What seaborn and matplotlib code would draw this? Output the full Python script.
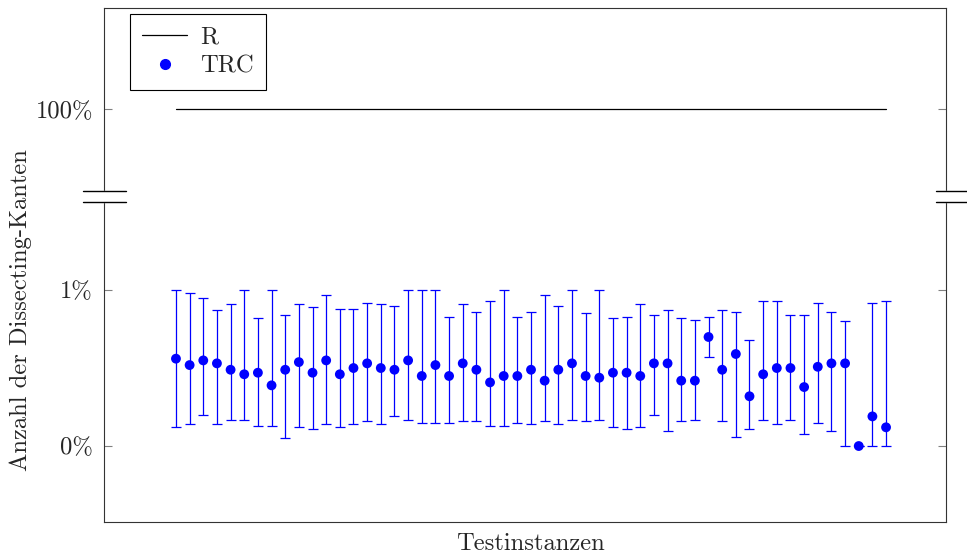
"""Dissecting-Kanten je Testinstanz (TRC mit Spannweite, R als Referenz)."""
import numpy as np
import pandas as pd
import matplotlib
matplotlib.use("Agg")
import matplotlib.pyplot as plt
import seaborn as sns
from matplotlib.lines import Line2D
from matplotlib.patches import Rectangle

# TRC: Mittelwert, Maximum, Minimum in Prozent je Testinstanz
trc_mean = [0.560, 0.519, 0.549, 0.530, 0.489, 0.460, 0.470, 0.389, 0.489, 0.538,
             0.470, 0.549, 0.460, 0.500, 0.530, 0.500, 0.489, 0.549, 0.449, 0.519,
             0.449, 0.530, 0.489, 0.408, 0.449, 0.449, 0.489, 0.419, 0.489, 0.530,
             0.449, 0.438, 0.470, 0.470, 0.449, 0.530, 0.530, 0.419, 0.419, 0.699,
             0.489, 0.590, 0.319, 0.460, 0.500, 0.500, 0.378, 0.508, 0.530, 0.530,
             0.000, 0.190, 0.120]
trc_max = [1.008, 0.979, 0.949, 0.870, 0.910, 1.000, 0.819, 1.000, 0.840, 0.910,
            0.889, 0.970, 0.880, 0.880, 0.919, 0.910, 0.899, 1.019, 1.030, 1.008,
            0.829, 0.910, 0.859, 0.929, 1.030, 0.829, 0.859, 0.970, 0.899, 1.060,
            0.851, 1.008, 0.819, 0.829, 0.910, 0.840, 0.870, 0.819, 0.810, 0.829,
            0.870, 0.859, 0.679, 0.929, 0.929, 0.840, 0.840, 0.919, 0.859, 0.799,
            0.000, 0.919, 0.929]
trc_min = [0.120, 0.139, 0.199, 0.139, 0.169, 0.169, 0.130, 0.130, 0.049, 0.120,
            0.109, 0.139, 0.120, 0.139, 0.158, 0.139, 0.190, 0.169, 0.149, 0.149,
            0.149, 0.158, 0.158, 0.130, 0.130, 0.149, 0.139, 0.158, 0.139, 0.169,
            0.158, 0.169, 0.120, 0.109, 0.120, 0.199, 0.098, 0.158, 0.169, 0.569,
            0.158, 0.060, 0.109, 0.169, 0.139, 0.169, 0.079, 0.149, 0.098, 0.000,
            0.000, 0.000, 0.000]
r_value = 100.0
y_ticks = [0, 1, 100]
y_tick_labels = ["0%", "1%", "100%"]

n = len(trc_mean)
df = pd.DataFrame({
    "instanz": np.arange(n),
    "mean": trc_mean,
    "max": trc_max,
    "min": trc_min,
    "R": [r_value] * n,
})

# gebrochene y-Achse: 0..1 % linear, darüber gestaucht bis 100 %
knots_data = [-10, 1, 100, 200]
knots_axis = [-10, 1, 2.16, 3.16]


def fwd(y):
    return np.interp(y, knots_data, knots_axis)


def inv(y):
    return np.interp(y, knots_axis, knots_data)


FS = 17.7

sns.set_style("ticks")
plt.rcParams["font.family"] = ["cmr10", "DejaVu Serif"]
plt.rcParams["mathtext.fontset"] = "cm"
plt.rcParams["axes.formatter.use_mathtext"] = True

fig = plt.figure(figsize=(9.67, 5.55), dpi=100)
ax = fig.add_axes([104 / 967, 33 / 555, 842 / 967, 514 / 555])
ax.set_yscale("function", functions=(fwd, inv))

ax.errorbar(df["instanz"], df["mean"],
            yerr=[df["mean"] - df["min"], df["max"] - df["mean"]],
            fmt="none", ecolor="blue", elinewidth=0.9, capsize=3.3,
            capthick=0.9, zorder=2)
sns.lineplot(data=df, x="instanz", y="R", color="black", linewidth=0.9,
             ax=ax, zorder=3, legend=False)
sns.scatterplot(data=df, x="instanz", y="mean", color="blue", s=50,
                edgecolor="none", ax=ax, zorder=4, legend=False)

ax.set_xlim(-5.27, 56.39)
ax.set_ylim(inv(-0.487), inv(2.808))
ax.set_xticks([])
ax.set_yticks(y_ticks)
ax.set_yticklabels(y_tick_labels, fontsize=FS)
ax.minorticks_off()
ax.tick_params(axis="y", direction="in", length=6, width=0.8, color="#808080",
               left=True, right=True, pad=8)

for s in ax.spines.values():
    s.set_linewidth(0.8)
    s.set_color("#333333")

ax.set_xlabel("Testinstanzen", fontsize=FS)
ax.set_ylabel("Anzahl der Dissecting-Kanten", fontsize=FS)
ax.xaxis.set_label_coords(0.507, -0.022)
ax.yaxis.set_label_coords(-0.085, 0.4125)

# Achsenbruch links und rechts
y_hi, y_lo = (522 - 191) / 514, (522 - 201.5) / 514
for x0, x1 in [(-0.025, 0.026), (0.988, 1.03)]:
    xc = 0.0 if x0 < 0 else 1.0
    ax.add_patch(Rectangle((xc - 0.004, y_lo), 0.008, y_hi - y_lo,
                           transform=ax.transAxes, color="white",
                           clip_on=False, zorder=5))
    for yy in (y_hi, y_lo):
        ax.add_line(Line2D([x0, x1], [yy, yy], transform=ax.transAxes,
                           color="black", linewidth=1.0, clip_on=False,
                           zorder=6))

handles = [
    Line2D([0], [0], color="black", linewidth=0.9),
    Line2D([0], [0], color="blue", marker="o", linestyle="none",
           markersize=7),
]
leg = ax.legend(handles, ["R", "TRC"], loc="upper left", fontsize=FS,
                frameon=True, fancybox=False, edgecolor="black",
                framealpha=1, borderpad=0.5, handlelength=1.8,
                handletextpad=0.55, labelspacing=0.28, borderaxespad=0,
                bbox_to_anchor=(0.031, 0.988))
leg.get_frame().set_linewidth(0.8)

fig.savefig("out.png", dpi=100)
plt.close(fig)
